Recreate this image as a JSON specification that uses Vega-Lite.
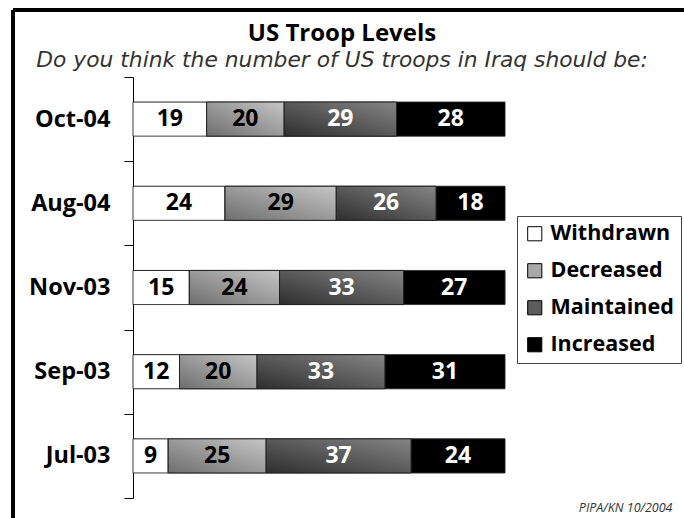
{
  "$schema": "https://vega.github.io/schema/vega-lite/v6.json",
  "width": 372,
  "height": 421,
  "autosize": {"type": "none"},
  "padding": {"left": 133, "top": 77, "right": 179, "bottom": 20},
  "background": "white",
  "config": {"font": "Open Sans", "view": {"stroke": null}},
  "title": {
    "text": "US Troop Levels",
    "subtitle": "Do you think the number of US troops in Iraq should be:",
    "anchor": "middle",
    "frame": "group",
    "dx": 23,
    "offset": -64,
    "font": "Open Sans",
    "fontSize": 24,
    "fontWeight": "bold",
    "color": "black",
    "subtitleFont": "DejaVu Sans",
    "subtitleFontSize": 21.8,
    "subtitleFontStyle": "italic",
    "subtitleFontWeight": "normal",
    "subtitleColor": "#333",
    "subtitlePadding": 4
  },
  "data": {
    "values": [
      {"date": "Oct-04", "category": "Withdrawn", "value": 19, "order": 1},
      {"date": "Oct-04", "category": "Decreased", "value": 20, "order": 2},
      {"date": "Oct-04", "category": "Maintained", "value": 29, "order": 3},
      {"date": "Oct-04", "category": "Increased", "value": 28, "order": 4},
      {"date": "Aug-04", "category": "Withdrawn", "value": 24, "order": 1},
      {"date": "Aug-04", "category": "Decreased", "value": 29, "order": 2},
      {"date": "Aug-04", "category": "Maintained", "value": 26, "order": 3},
      {"date": "Aug-04", "category": "Increased", "value": 18, "order": 4},
      {"date": "Nov-03", "category": "Withdrawn", "value": 15, "order": 1},
      {"date": "Nov-03", "category": "Decreased", "value": 24, "order": 2},
      {"date": "Nov-03", "category": "Maintained", "value": 33, "order": 3},
      {"date": "Nov-03", "category": "Increased", "value": 27, "order": 4},
      {"date": "Sep-03", "category": "Withdrawn", "value": 12, "order": 1},
      {"date": "Sep-03", "category": "Decreased", "value": 20, "order": 2},
      {"date": "Sep-03", "category": "Maintained", "value": 33, "order": 3},
      {"date": "Sep-03", "category": "Increased", "value": 31, "order": 4},
      {"date": "Jul-03", "category": "Withdrawn", "value": 9, "order": 1},
      {"date": "Jul-03", "category": "Decreased", "value": 25, "order": 2},
      {"date": "Jul-03", "category": "Maintained", "value": 37, "order": 3},
      {"date": "Jul-03", "category": "Increased", "value": 24, "order": 4}
    ]
  },
  "transform": [
    {"stack": "value", "groupby": ["date"], "sort": [{"field": "order", "order": "ascending"}], "offset": "normalize", "as": ["v0", "v1"]}
  ],
  "encoding": {
    "y": {
      "field": "date",
      "type": "nominal",
      "sort": ["Oct-04", "Aug-04", "Nov-03", "Sep-03", "Jul-03"],
      "scale": {"paddingInner": 0, "paddingOuter": 0},
      "axis": {
        "title": null,
        "tickBand": "extent",
        "tickSize": 9,
        "tickColor": "black",
        "tickWidth": 1,
        "domainColor": "black",
        "domainWidth": 1,
        "labelFont": "Open Sans",
        "labelFontSize": 23.5,
        "labelFontWeight": "bold",
        "labelColor": "black",
        "labelPadding": 14
      }
    }
  },
  "layer": [
    {
      "mark": {"type": "bar", "height": {"band": 0.405}, "stroke": "#222", "strokeWidth": 1},
      "encoding": {
        "x": {
          "field": "v0",
          "type": "quantitative",
          "scale": {"domain": [0, 1], "nice": false},
          "axis": {
            "domain": false, "ticks": false, "labels": false, "grid": false,
            "title": "PIPA/KN 10/2004",
            "titleX": 539, "titleY": 13,
            "titleAlign": "right", "titleBaseline": "alphabetic",
            "titleFont": "Open Sans", "titleFontSize": 12.5, "titleFontStyle": "italic",
            "titleFontWeight": "normal", "titleColor": "#333"
          }
        },
        "x2": {"field": "v1"},
        "color": {
          "field": "category",
          "type": "nominal",
          "scale": {
            "domain": ["Withdrawn", "Decreased", "Maintained", "Increased"],
            "range": ["#ffffff", "#a8a8a8", "#5c5c5c", "#000000"]
          },
          "legend": {
            "orient": "none",
            "legendX": 384,
            "legendY": 139,
            "title": null,
            "strokeColor": "#444",
            "padding": 7,
            "symbolType": "square",
            "symbolSize": 200,
            "symbolStrokeColor": "black",
            "symbolStrokeWidth": 1,
            "labelFont": "Open Sans",
            "labelFontSize": 21.5,
            "labelFontWeight": "bold",
            "labelColor": "black",
            "labelOffset": 5,
            "rowPadding": 14,
            "labelLimit": 200
          }
        },
        "strokeDash": {
          "datum": "frame",
          "type": "nominal",
          "scale": {"range": [[1, 0]]},
          "legend": {
            "orient": "none",
            "legendX": -122,
            "legendY": -69,
            "title": null,
            "padding": 0,
            "symbolType": "square",
            "symbolSize": 2560000,
            "symbolFillColor": "transparent",
            "symbolStrokeColor": "black",
            "symbolStrokeWidth": 4,
            "symbolDash": [1, 0],
            "labelExpr": "''",
            "labelFontSize": 1,
            "labelColor": "transparent"
          }
        }
      }
    },
    {
      "transform": [{"filter": "datum.category == 'Decreased'"}],
      "mark": {
        "type": "bar", "height": {"band": 0.405}, "stroke": "#222", "strokeWidth": 1,
        "color": {"gradient": "linear", "x1": 0, "y1": 1, "x2": 1, "y2": 0,
          "stops": [{"offset": 0, "color": "#6e6e6e"}, {"offset": 1, "color": "#c6c6c6"}]}
      },
      "encoding": {
        "x": {"field": "v0", "type": "quantitative"},
        "x2": {"field": "v1"}
      }
    },
    {
      "transform": [{"filter": "datum.category == 'Maintained'"}],
      "mark": {
        "type": "bar", "height": {"band": 0.405}, "stroke": "#222", "strokeWidth": 1,
        "color": {"gradient": "linear", "x1": 0, "y1": 1, "x2": 1, "y2": 0,
          "stops": [{"offset": 0, "color": "#2e2e2e"}, {"offset": 1, "color": "#858585"}]}
      },
      "encoding": {
        "x": {"field": "v0", "type": "quantitative"},
        "x2": {"field": "v1"}
      }
    },
    {
      "mark": {"type": "text", "font": "Open Sans", "fontSize": 23, "fontWeight": "bold", "baseline": "middle", "align": "center"},
      "encoding": {
        "x": {"field": "value", "type": "quantitative", "stack": "normalize", "bandPosition": 0.5},
        "order": {"field": "order", "type": "quantitative"},
        "text": {"field": "value", "type": "quantitative"},
        "color": {
          "condition": {"test": "datum.category == 'Maintained' || datum.category == 'Increased'", "value": "white"},
          "value": "black"
        }
      }
    }
  ]
}
